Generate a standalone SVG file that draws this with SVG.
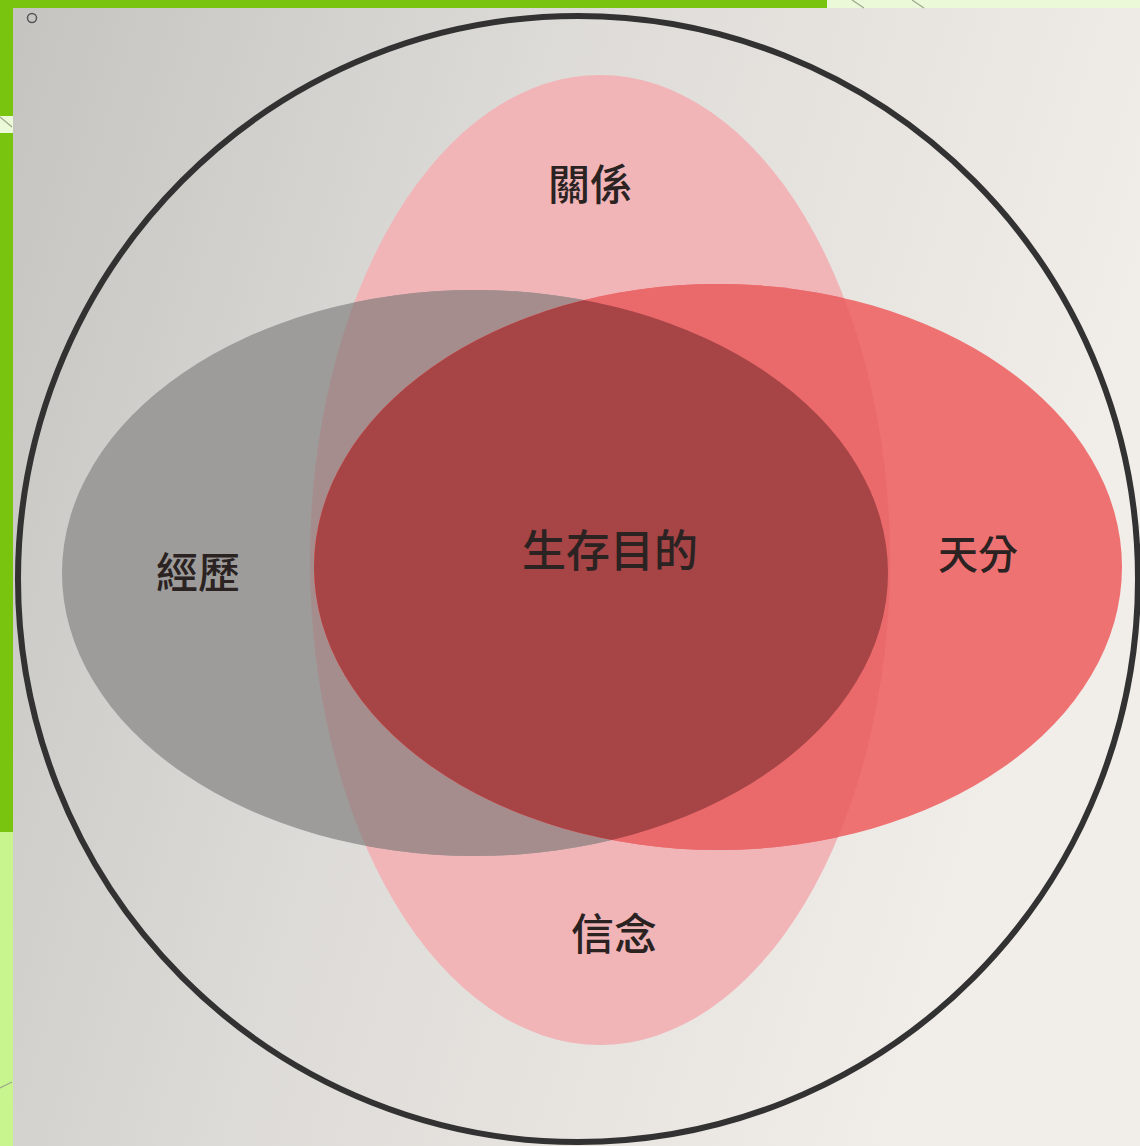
<svg xmlns="http://www.w3.org/2000/svg" width="1140" height="1146" viewBox="0 0 1140 1146">
  <defs>
    <linearGradient id="paper" x1="0" y1="0" x2="1" y2="0.3">
      <stop offset="0" stop-color="#c4c3bf"/>
      <stop offset="0.45" stop-color="#dddbd7"/>
      <stop offset="1" stop-color="#f1ede9"/>
    </linearGradient>
    <ellipse id="shape-pink" cx="600" cy="560" rx="290" ry="485"/>
    <ellipse id="shape-gray" cx="475" cy="573" rx="413" ry="283"/>
    <ellipse id="shape-red" cx="718" cy="567" rx="404" ry="283"/>
    <clipPath id="clip-gray"><use href="#shape-gray"/></clipPath>
    <clipPath id="clip-red"><use href="#shape-red"/></clipPath>
    <style>
      .lbl { font-family: "Noto Sans CJK TC", "Noto Sans CJK SC", sans-serif; font-weight: 500; fill: #2b2222; text-anchor: middle; }
      .deco { stroke: #9aa88a; stroke-width: 1.2; fill: none; }
    </style>
  </defs>

  <!-- paper background -->
  <rect x="0" y="0" width="1140" height="1146" fill="url(#paper)"/>

  <!-- frame decoration -->
  <g id="frame">
    <rect x="0" y="0" width="827" height="8" fill="#78c40e"/>
    <rect x="827" y="0" width="313" height="8" fill="#ebf9d8"/>
    <line class="deco" x1="852" y1="0" x2="864" y2="8"/>
    <line class="deco" x1="912" y1="0" x2="924" y2="8"/>
    <rect x="0" y="0" width="13" height="116" fill="#78c40e"/>
    <rect x="0" y="116" width="13" height="17" fill="#ebf9d8"/>
    <line class="deco" x1="0" y1="117" x2="12" y2="127"/>
    <rect x="0" y="133" width="13" height="699" fill="#78c40e"/>
    <rect x="0" y="832" width="13" height="314" fill="#c9f58f"/>
    <line class="deco" x1="0" y1="1088" x2="12" y2="1082"/>
  </g>

  <circle cx="32" cy="18" r="4.5" fill="none" stroke="#555" stroke-width="1.5"/>

  <!-- outer circle -->
  <g id="outer">
    <ellipse cx="578" cy="579" rx="560" ry="563" fill="none" stroke="#333232" stroke-width="6"/>
  </g>

  <!-- sets -->
  <g id="set-relationship">
    <use href="#shape-pink" fill="#f1b5b8"/>
  </g>
  <g id="set-experience">
    <use href="#shape-gray" fill="#9d9c9a"/>
    <use href="#shape-pink" fill="#a68d8d" clip-path="url(#clip-gray)"/>
  </g>
  <g id="set-talent">
    <use href="#shape-red" fill="#ef7273"/>
    <use href="#shape-pink" fill="#ea6a6c" clip-path="url(#clip-red)"/>
    <use href="#shape-gray" fill="#a64446" clip-path="url(#clip-red)"/>
  </g>

  <!-- labels -->
  <g id="label-relationship"><text class="lbl" x="590" y="200" font-size="42">關係</text></g>
  <g id="label-purpose"><text class="lbl" x="610" y="567" font-size="44">生存目的</text></g>
  <g id="label-experience"><text class="lbl" x="198" y="588" font-size="42">經歷</text></g>
  <g id="label-talent"><text class="lbl" x="978" y="569" font-size="40">天分</text></g>
  <g id="label-belief"><text class="lbl" x="614" y="950" font-size="43">信念</text></g>

  <g id="connectors"></g>
</svg>
